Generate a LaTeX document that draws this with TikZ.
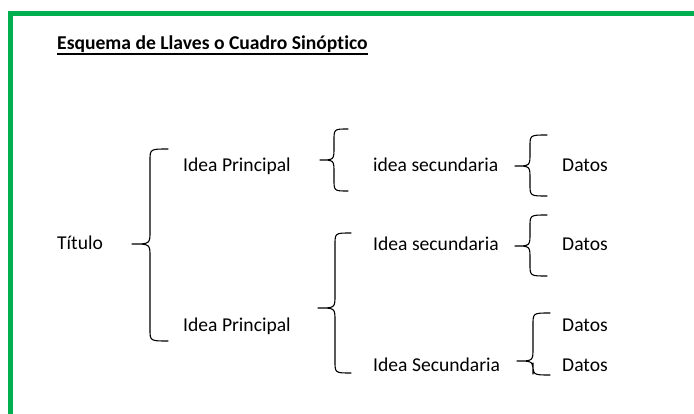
\documentclass[tikz,border=0pt]{standalone}
\usepackage{fontspec}
\setmainfont[Ligatures=NoCommon]{Carlito}
\definecolor{framegreen}{RGB}{0,176,80}
\definecolor{txt}{RGB}{0,0,0}
% #1 xtip, #2 ytip, #3 xv, #4 xe, #5 ytop, #6 ybot
\newcommand\mybrace[6]{%
  \draw[bracestyle] (#4,#5) .. controls (#3,#5) .. (#3,#5+12)
    -- (#3,#2-13) .. controls (#3,#2) .. (#1,#2)
    .. controls (#3,#2) .. (#3,#2+13)
    -- (#3,#6-12) .. controls (#3,#6) .. (#4,#6);}
\begin{document}
\begin{tikzpicture}[x=1pt,y=-1pt,
  lbl/.style={anchor=base west,inner sep=0pt,font=\fontsize{19.6}{22}\selectfont,text=txt},
  bracestyle/.style={draw=black,line width=1.1pt,line cap=round,line join=round}]
\useasboundingbox (0,0) rectangle (694,414);
\draw[framegreen,line width=5pt] (10.5,430) -- (10.5,13.5) -- (710,13.5);
\node[lbl,font=\fontsize{19.6}{22}\selectfont\bfseries] (title) at (57,49.5) {Esquema de Llaves o Cuadro Sinóptico};
\draw[line width=1.6pt] (title.base west) ++(0,4.5) -- ([yshift=-4.5pt]title.base east);
\node[lbl] (titulo) at (57,250) {Título};
\node[lbl] (ip1) at (183,172) {Idea Principal};
\node[lbl] (ip2) at (183,331) {Idea Principal};
\node[lbl] (is1) at (373,172) {idea secundaria};
\node[lbl] (is2) at (373,251) {Idea secundaria};
\node[lbl] (is3) at (373,371) {Idea Secundaria};
\node[lbl] (d1) at (562,172) {Datos};
\node[lbl] (d2) at (562,251) {Datos};
\node[lbl] (d3) at (562,331) {Datos};
\node[lbl] (d4) at (562,371) {Datos};
\mybrace{132}{244}{150}{168}{149}{341}
\mybrace{320}{160}{334}{348}{129}{191}
\mybrace{515}{166}{530}{547}{135}{196}
\mybrace{515}{246}{530}{547}{215}{276}
\mybrace{318}{308}{335}{351}{233}{373}
\mybrace{517}{361}{533}{550}{313}{375}
\end{tikzpicture}
\end{document}
